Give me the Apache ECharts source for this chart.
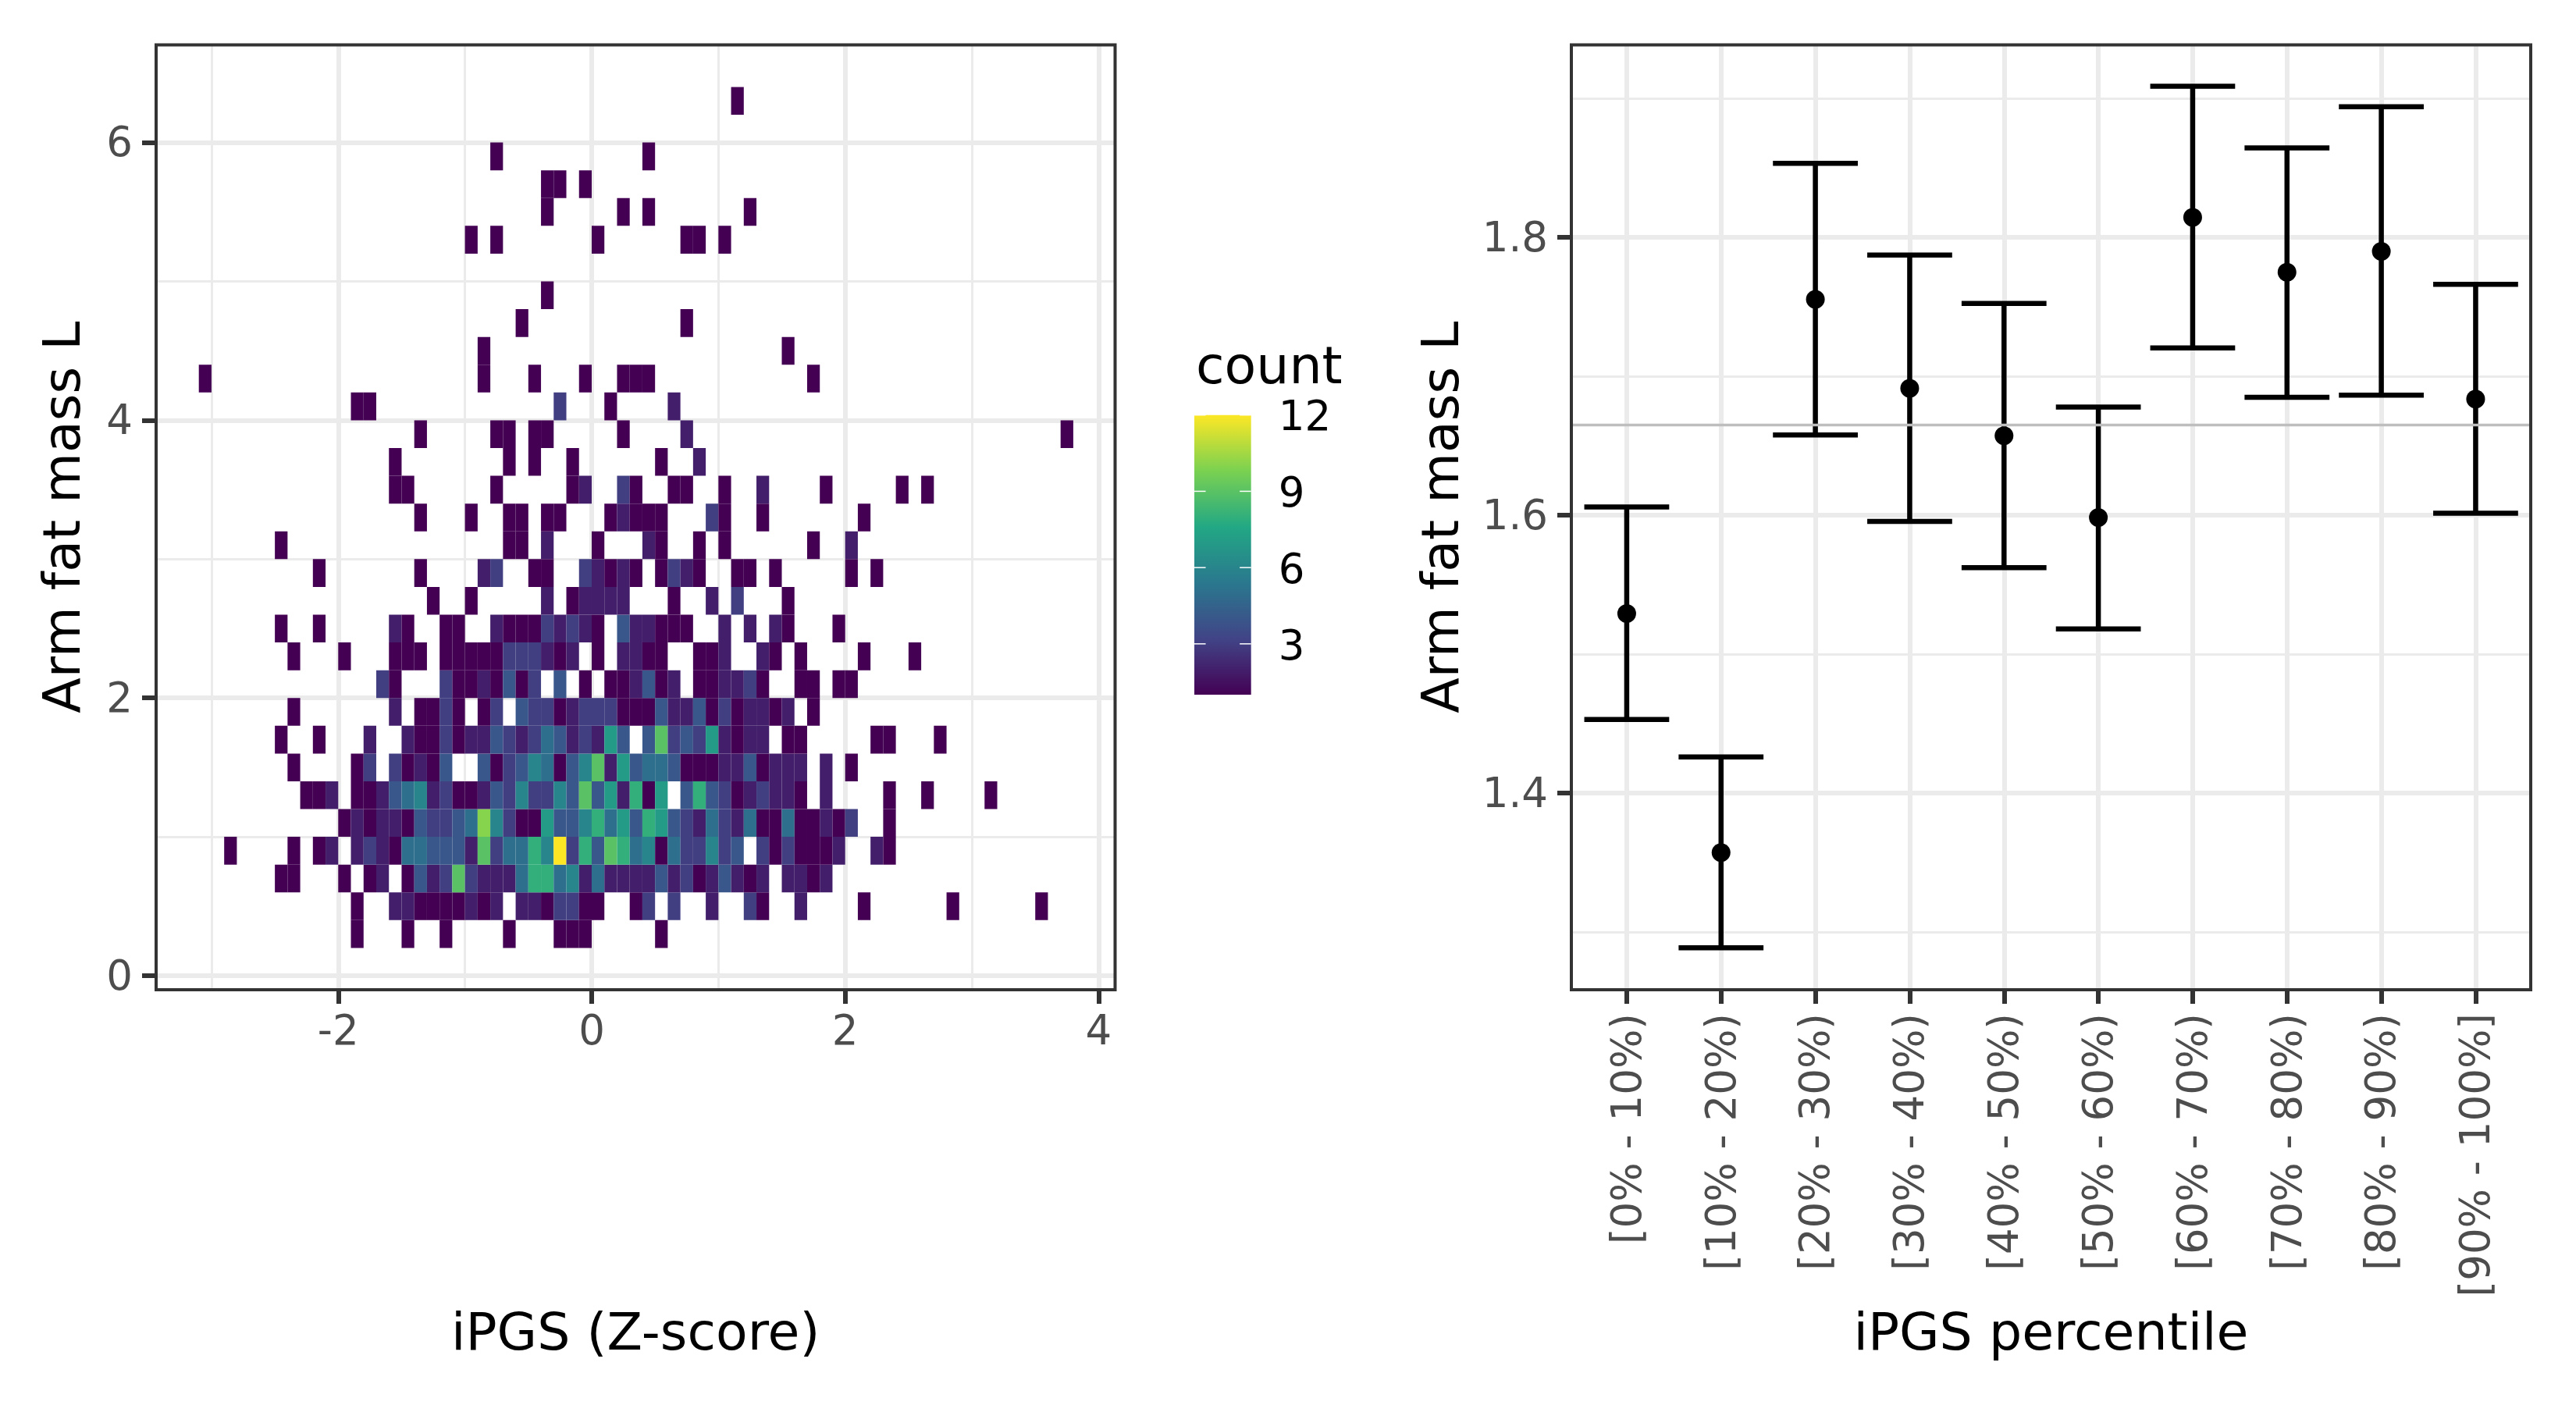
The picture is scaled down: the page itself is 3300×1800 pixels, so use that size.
<!DOCTYPE html>
<html><head><meta charset="utf-8">
<style>html,body{margin:0;padding:0;background:#fff}#c{width:3300px;height:1800px}</style>
<script src="https://cdn.jsdelivr.net/npm/echarts@6/dist/echarts.min.js"></script>
</head><body><div id="c"></div>
<script>
// ---------- data: left panel (2D histogram, bins 0.1 x 0.2) ----------
const xBinWidth = 0.1, yBinHeight = 0.2;
// lower edge of each row of bins
const rowBottoms = [0.2,0.4,0.6,0.8,1.0,1.2,1.4,1.6,1.8,2.0,2.2,2.4,2.6,2.8,3.0,3.2,3.4,3.6,3.8,4.0,4.2,4.4,4.6,4.8,5.2,5.4,5.6,5.8,6.2];
// per row: [left edge of bin in tenths of x, count]
const rowCells = [
[[-19,1],[-15,1],[-12,1],[-7,1],[-3,1],[-2,1],[-1,1],[5,1]],
[[-19,1],[-16,2],[-15,2],[-14,1],[-13,1],[-12,1],[-11,1],[-10,2],[-9,1],[-8,2],[-6,2],[-5,2],[-4,1],[-3,3],[-2,3],[-1,1],[0,1],[3,1],[4,3],[6,3],[9,2],[12,3],[13,1],[16,2],[21,1],[28,1],[35,1]],
[[-25,1],[-24,1],[-20,1],[-18,1],[-17,2],[-15,1],[-14,4],[-13,2],[-12,3],[-11,9],[-10,3],[-9,2],[-8,2],[-7,2],[-6,5],[-5,8],[-4,8],[-3,5],[-2,6],[-1,2],[0,5],[1,2],[2,2],[3,2],[4,2],[5,4],[6,2],[7,3],[8,1],[9,2],[10,4],[11,2],[12,1],[13,2],[15,2],[16,2],[17,1],[18,2]],
[[-29,1],[-24,1],[-22,1],[-21,2],[-19,2],[-18,3],[-17,2],[-16,1],[-15,5],[-14,5],[-13,4],[-12,4],[-11,4],[-10,2],[-9,9],[-8,3],[-7,5],[-6,5],[-5,8],[-4,6],[-3,12],[-2,3],[-1,8],[0,4],[1,9],[2,8],[3,5],[4,6],[5,1],[6,5],[7,3],[8,3],[9,6],[10,3],[11,4],[13,3],[14,1],[15,3],[16,1],[17,1],[18,1],[19,2],[22,2],[23,1]],
[[-20,1],[-19,2],[-18,1],[-17,2],[-16,2],[-15,1],[-14,4],[-13,3],[-12,3],[-11,4],[-10,5],[-9,10],[-8,6],[-7,3],[-6,1],[-5,1],[-4,7],[-3,4],[-2,4],[-1,6],[0,8],[1,5],[2,7],[3,4],[4,8],[5,7],[6,4],[7,3],[8,2],[9,5],[10,3],[11,2],[12,5],[13,1],[14,1],[15,5],[16,1],[17,1],[18,2],[19,1],[20,3],[23,1]],
[[-23,1],[-22,1],[-21,2],[-19,1],[-18,1],[-17,2],[-16,4],[-15,5],[-14,6],[-13,2],[-12,3],[-11,1],[-10,1],[-9,2],[-8,4],[-7,3],[-6,6],[-5,3],[-4,3],[-3,6],[-2,4],[-1,9],[0,4],[1,7],[2,2],[3,8],[4,1],[5,7],[7,4],[8,8],[9,4],[10,3],[11,1],[12,2],[13,3],[14,2],[15,2],[16,1],[18,2],[23,1],[26,1],[31,1]],
[[-24,1],[-19,1],[-18,3],[-16,3],[-15,1],[-14,2],[-13,1],[-12,4],[-9,4],[-8,1],[-7,3],[-6,4],[-5,6],[-4,5],[-3,1],[-2,4],[-1,6],[0,9],[1,2],[2,7],[3,4],[4,5],[5,5],[6,4],[7,1],[8,1],[9,1],[10,2],[11,2],[12,4],[13,1],[14,2],[15,2],[16,2],[18,2],[20,1]],
[[-25,1],[-22,1],[-18,2],[-15,2],[-14,1],[-13,1],[-12,3],[-11,1],[-10,2],[-9,2],[-8,4],[-7,3],[-6,2],[-5,3],[-4,5],[-3,4],[-2,2],[-1,3],[0,2],[1,7],[2,4],[4,4],[5,9],[6,3],[7,4],[8,3],[9,7],[10,2],[11,1],[12,2],[13,2],[15,1],[16,1],[22,1],[23,1],[27,1]],
[[-24,1],[-16,2],[-14,1],[-13,1],[-12,3],[-11,1],[-9,1],[-8,3],[-6,4],[-5,3],[-4,3],[-3,1],[-2,2],[-1,3],[0,3],[1,3],[2,1],[3,1],[4,1],[5,4],[6,2],[7,2],[8,4],[9,1],[10,3],[11,1],[12,2],[13,2],[14,1],[15,2],[17,1]],
[[-17,3],[-16,1],[-12,3],[-11,1],[-10,1],[-9,2],[-8,1],[-7,4],[-6,1],[-5,3],[-3,4],[-1,1],[1,1],[2,1],[3,2],[4,4],[5,1],[6,2],[8,1],[9,1],[10,2],[11,2],[12,3],[13,1],[16,1],[17,1],[19,1],[20,1]],
[[-24,1],[-20,1],[-16,1],[-15,1],[-14,1],[-12,1],[-11,1],[-10,1],[-9,1],[-8,1],[-7,3],[-6,3],[-5,3],[-4,2],[-3,1],[-2,2],[0,1],[2,2],[3,2],[4,1],[5,1],[8,1],[9,1],[10,2],[13,2],[14,1],[16,1],[21,1],[25,1]],
[[-25,1],[-22,1],[-16,2],[-15,1],[-12,1],[-11,1],[-8,2],[-7,1],[-6,1],[-5,1],[-4,3],[-3,2],[-2,3],[-1,2],[0,1],[2,4],[3,2],[4,2],[5,1],[6,1],[7,1],[10,2],[12,2],[14,2],[15,1],[19,1]],
[[-13,1],[-10,1],[-4,2],[-2,1],[-1,2],[0,2],[1,2],[2,2],[6,1],[9,2],[11,3],[15,1]],
[[-22,1],[-14,1],[-9,2],[-8,3],[-5,1],[-4,1],[-1,3],[0,2],[1,1],[2,2],[3,1],[5,1],[6,3],[7,2],[8,1],[11,1],[12,1],[14,1],[20,1],[22,1]],
[[-25,1],[-7,1],[-6,1],[-4,2],[0,1],[4,2],[5,1],[8,1],[10,1],[17,1],[20,2]],
[[-14,1],[-10,1],[-7,1],[-6,1],[-4,1],[-3,1],[1,1],[2,2],[3,1],[4,1],[5,1],[9,3],[10,1],[13,1],[21,1]],
[[-16,1],[-15,1],[-8,1],[-2,1],[-1,2],[2,3],[3,1],[6,1],[7,1],[10,1],[13,2],[18,1],[24,1],[26,1]],
[[-16,1],[-7,1],[-5,1],[-2,1],[5,1],[8,2]],
[[-14,1],[-8,1],[-7,1],[-5,1],[-4,1],[2,1],[7,2],[37,1]],
[[-19,1],[-18,1],[-3,3],[1,1],[6,2]],
[[-31,1],[-9,1],[-5,1],[-1,1],[2,1],[3,1],[4,1],[17,1]],
[[-9,1],[15,1]],
[[-6,1],[7,1]],
[[-4,1]],
[[-10,1],[-8,1],[0,1],[7,1],[8,1],[10,1]],
[[-4,1],[2,1],[4,1],[12,1]],
[[-4,1],[-3,1],[-1,1]],
[[-8,1],[4,1]],
[[11,1]]
];
// ---------- data: right panel ----------
const percentileLabels = ['[0% - 10%)','[10% - 20%)','[20% - 30%)','[30% - 40%)','[40% - 50%)','[50% - 60%)','[60% - 70%)','[70% - 80%)','[80% - 90%)','[90% - 100%]'];
const pointValues = [1.5293,1.3572,1.7554,1.6914,1.6572,1.5983,1.8144,1.7749,1.7900,1.6836];
const lowerValues = [1.4529,1.2886,1.6578,1.5955,1.5622,1.5181,1.7205,1.6849,1.6865,1.6014];
const upperValues = [1.6060,1.4260,1.8533,1.7873,1.7525,1.6779,1.9088,1.8644,1.8940,1.7662];
const referenceLine = 1.665;
// ---------- ticks ----------
const leftXMajor = [-2,0,2,4], leftXMinor = [-3,-1,1,3];
const leftYMajor = [0,2,4,6], leftYMinor = [1,3,5];
const rightXMajor = [1,2,3,4,5,6,7,8,9,10];
const rightYMajor = [1.4,1.6,1.8], rightYMinor = [1.3,1.5,1.7,1.9];
const legendTicks = [3,6,9,12];
const viridisStops = ['#440154','#414487','#2A788E','#22A884','#7AD151','#FDE725'];

const FONT = 'DejaVu Sans', INK = '#4d4d4d', DARK = '#333333', GRID = '#ebebeb';
const AXIS_PX = 53, TITLE_PX = 66.5;

const cellData = [];
rowBottoms.forEach((y, i) => rowCells[i].forEach(c => cellData.push([c[0] * xBinWidth, y, c[1]])));
const barData = pointValues.map((p, i) => [i + 1, lowerValues[i], upperValues[i]]);

const panels = {
  left:  { left: 200,  top: 57.5, width: 1228.5, height: 1210.5 },
  right: { left: 2013, top: 57.5, width: 1229,   height: 1210.5 },
  bar:   { left: 1530, top: 531.7, width: 72.7,  height: 358.3 }
};

function majorAxis(grid, min, max, values, pos, extra) {
  return Object.assign({
    type: 'value', gridIndex: grid, min, max, position: pos, scale: true,
    axisLine: { show: false, onZero: false },
    axisTick: { show: true, customValues: values, length: 18, lineStyle: { color: DARK, width: 6 } },
    axisLabel: { show: true, customValues: values, color: INK, fontFamily: FONT, fontSize: AXIS_PX, margin: 30, hideOverlap: false, showMinLabel: true, showMaxLabel: true },
    splitLine: { show: true, lineStyle: { color: GRID, width: 6 } }
  }, extra || {});
}
function minorAxis(grid, min, max, values, pos) {
  return {
    type: 'value', gridIndex: grid, min, max, position: pos, scale: true,
    axisLine: { show: false, onZero: false },
    axisTick: { show: false, customValues: values },
    axisLabel: { show: false },
    splitLine: { show: true, lineStyle: { color: GRID, width: 3 } }
  };
}
const nameStyle = { color: '#000', fontFamily: FONT, fontSize: TITLE_PX };
// a short top-aligned line box nudges the text just past the tick, as in the reference
const yLabel = { color: INK, fontFamily: FONT, fontSize: AXIS_PX, margin: 30, hideOverlap: false, showMinLabel: true, showMaxLabel: true, verticalAlign: 'top', lineHeight: 8 };

const option = {
  backgroundColor: '#fff',
  animation: false,
  title: { text: 'count', left: 1532, top: 440, textStyle: { color: '#000', fontFamily: FONT, fontSize: TITLE_PX, fontWeight: 'normal' }, padding: 0 },
  grid: [
    Object.assign({ containLabel: false }, panels.left),
    Object.assign({ containLabel: false }, panels.right),
    Object.assign({ containLabel: false }, panels.bar)
  ],
  xAxis: [
    majorAxis(0, -3.437, 4.13, leftXMajor, 'bottom', { name: 'iPGS (Z-score)', nameLocation: 'middle', nameGap: 410, nameTextStyle: nameStyle }),
    minorAxis(0, -3.437, 4.13, leftXMinor, 'top'),
    majorAxis(1, 0.413, 10.584, rightXMajor, 'bottom', {
      name: 'iPGS percentile', nameLocation: 'middle', nameGap: 410, nameTextStyle: nameStyle,
      axisLabel: { show: true, customValues: rightXMajor, rotate: 90, color: INK, fontFamily: FONT, fontSize: AXIS_PX, margin: 30, hideOverlap: false, verticalAlign: 'top', lineHeight: 8, align: 'right',
        formatter: v => percentileLabels[Math.round(v) - 1] }
    }),
    { type: 'value', gridIndex: 2, min: 0, max: 1, show: false }
  ],
  yAxis: [
    majorAxis(0, -0.101, 6.703, leftYMajor, 'left', { name: 'Arm fat mass L', nameLocation: 'middle', nameGap: 82, nameTextStyle: nameStyle,
      axisLabel: Object.assign({ show: true, customValues: leftYMajor }, yLabel) }),
    minorAxis(0, -0.101, 6.703, leftYMinor, 'right'),
    majorAxis(1, 1.2584, 1.9386, rightYMajor, 'left', { name: 'Arm fat mass L', nameLocation: 'middle', nameGap: 129, nameTextStyle: nameStyle,
      axisLabel: Object.assign({ show: true, customValues: rightYMajor, formatter: v => v.toFixed(1) }, yLabel) }),
    minorAxis(1, 1.2584, 1.9386, rightYMinor, 'right'),
    { type: 'value', gridIndex: 2, min: 1, max: 12, position: 'right', scale: true,
      axisLine: { show: false, onZero: false },
      axisTick: { show: false, customValues: legendTicks },
      axisLabel: { show: true, customValues: legendTicks, color: '#000', fontFamily: FONT, fontSize: AXIS_PX, margin: 35, showMaxLabel: true, hideOverlap: false, verticalAlign: 'top', lineHeight: 12 },
      splitLine: { show: false } }
  ],
  visualMap: { show: false, type: 'continuous', min: 1, max: 12, dimension: 2, seriesIndex: 0, inRange: { color: viridisStops } },
  series: [
    { // histogram cells
      type: 'custom', xAxisIndex: 0, yAxisIndex: 0, data: cellData, encode: { x: 0, y: 1 }, clip: true, z: 3,
      renderItem(params, api) {
        const x = api.value(0), y = api.value(1);
        const a = api.coord([x, y]), b = api.coord([x + xBinWidth, y + yBinHeight]);
        return { type: 'rect', shape: { x: a[0], y: b[1], width: b[0] - a[0], height: a[1] - b[1] }, style: { fill: api.visual('color'), stroke: null } };
      }
    },
    { // error bars
      type: 'custom', xAxisIndex: 2, yAxisIndex: 2, data: barData, encode: { x: 0, y: [1, 2] }, z: 3,
      renderItem(params, api) {
        const i = api.value(0), lo = api.value(1), hi = api.value(2);
        const line = (p, q) => ({ type: 'line', shape: { x1: p[0], y1: p[1], x2: q[0], y2: q[1] }, style: { stroke: '#000', lineWidth: 6.5, lineCap: 'butt' } });
        return { type: 'group', children: [
          line(api.coord([i, lo]), api.coord([i, hi])),
          line(api.coord([i - 0.45, lo]), api.coord([i + 0.45, lo])),
          line(api.coord([i - 0.45, hi]), api.coord([i + 0.45, hi]))
        ] };
      }
    },
    { // points
      type: 'scatter', xAxisIndex: 2, yAxisIndex: 2, z: 4, symbol: 'circle', symbolSize: 24,
      itemStyle: { color: '#000', opacity: 1 }, data: pointValues.map((p, i) => [i + 1, p])
    },
    { // overall reference line
      type: 'line', xAxisIndex: 2, yAxisIndex: 2, z: 5, showSymbol: false, silent: true,
      lineStyle: { color: '#bebebe', width: 3.5 }, data: [[0.413, referenceLine], [10.584, referenceLine]]
    },
    { // colour bar
      type: 'custom', xAxisIndex: 3, yAxisIndex: 4, data: [[0, 1, 1, 12]], encode: { x: [0, 2], y: [1, 3] }, z: 3,
      renderItem(params, api) {
        const a = api.coord([0, 1]), b = api.coord([1, 12]);
        const children = [{ type: 'rect', shape: { x: a[0], y: b[1], width: b[0] - a[0], height: a[1] - b[1] },
          style: { fill: new echarts.graphic.LinearGradient(0, 1, 0, 0, viridisStops.map((c, i) => ({ offset: i / (viridisStops.length - 1), color: c }))) } }];
        legendTicks.forEach(t => {
          const y = api.coord([0, t])[1], w = (b[0] - a[0]) / 5;
          children.push({ type: 'line', shape: { x1: a[0], y1: y, x2: a[0] + w, y2: y }, style: { stroke: '#fff', lineWidth: 1.5 } });
          children.push({ type: 'line', shape: { x1: b[0] - w, y1: y, x2: b[0], y2: y }, style: { stroke: '#fff', lineWidth: 1.5 } });
        });
        return { type: 'group', children };
      }
    }
  ],
  graphic: [panels.left, panels.right].map(p => ({
    type: 'rect', z: 100, silent: true,
    shape: { x: p.left, y: p.top, width: p.width, height: p.height },
    style: { fill: 'none', stroke: DARK, lineWidth: 4 }
  }))
};
const chart = echarts.init(document.getElementById('c'), null, { width: 3300, height: 1800 });
chart.setOption(option);
</script></body></html>
